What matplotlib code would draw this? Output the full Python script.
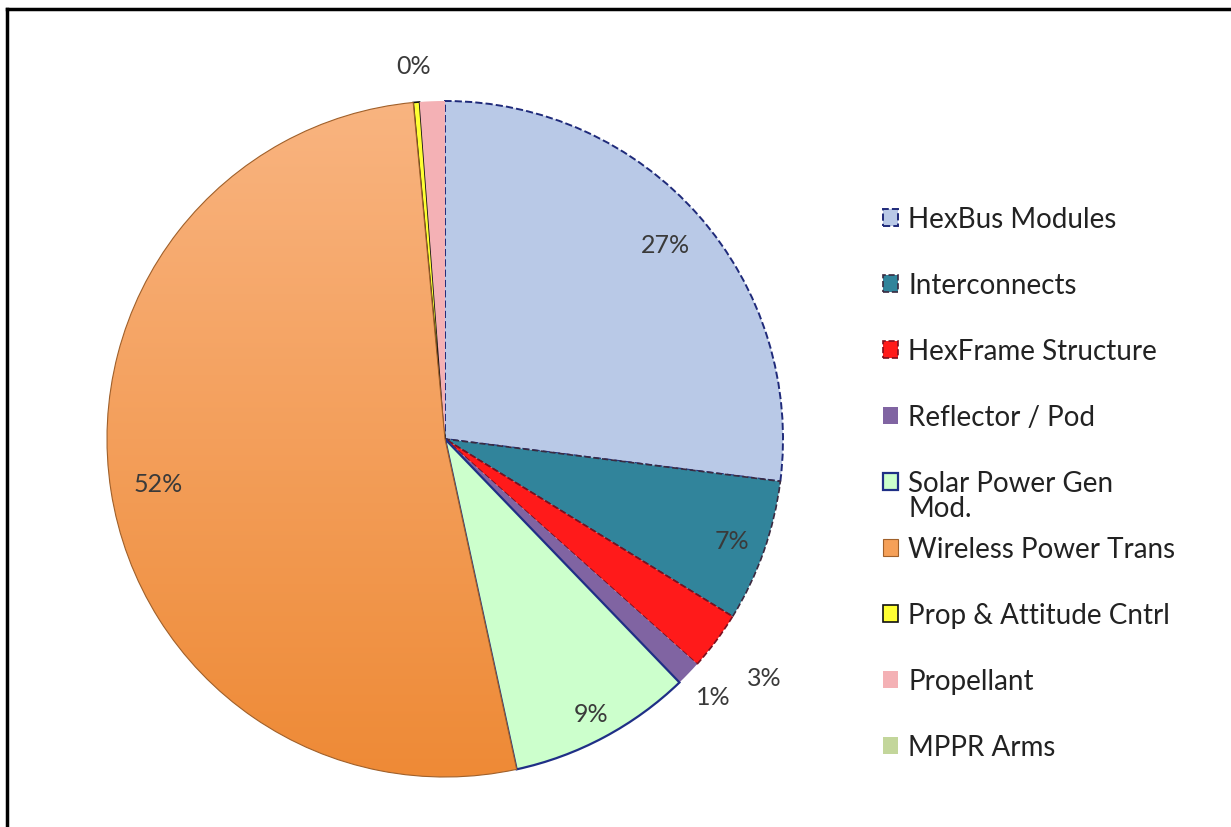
import matplotlib.pyplot as plt
from matplotlib.lines import Line2D
import numpy as np

plt.rcParams['font.family'] = ['Lato', 'DejaVu Sans']

categories = ["HexBus Modules", "Interconnects", "HexFrame Structure", "Reflector / Pod",
              "Solar Power Gen", "Wireless Power Trans", "Prop & Attitude Cntrl",
              "Propellant", "MPPR Arms"]
shares = [27.0, 6.8, 2.8, 1.2, 8.8, 51.9, 0.3, 1.2, 0.0]
pct_labels = ["27%", "7%", "3%", "1%", "9%", "52%", "0%", "", ""]

colors = ["#b9c9e7", "#31849b", "#ff1a1a", "#8064a2", "#ccffcc",
          "#f5a058", "#ffff33", "#f4b1b5", "#c3d69b"]
edges = ["#1f2a7a", "#3a2a40", "#7a1020", "none", "#1f2f86",
         "#a0602a", "#111111", "none", "none"]
styles = ["--", "--", "--", "-", "-", "-", "-", "-", "-"]
widths = [1.4, 1.2, 1.2, 0, 1.6, 0.8, 1.2, 0, 0]
label_dist = [0.87, 0.90, 1.18, 1.10, 0.92, 0.86, 1.11, 0, 0]

W, H = 1231, 828
fig = plt.figure(figsize=(W / 100, H / 100), dpi=100)
cx, cy, R = 445, 440, 338
ax = fig.add_axes([(cx - R) / W, (H - cy - R) / H, 2 * R / W, 2 * R / H])

wedges, _ = ax.pie(shares, colors=colors, startangle=90, counterclock=False,
                   radius=1.0)
for w, ec, ls, lw in zip(wedges, edges, styles, widths):
    w.set_edgecolor(ec)
    w.set_linestyle(ls)
    w.set_linewidth(lw)

# orange slice has a light-to-dark vertical gradient in the original
grad = np.linspace(0, 1, 256).reshape(-1, 1)
top = np.array([0xf9, 0xb4, 0x80]) / 255
bot = np.array([0xee, 0x8a, 0x36]) / 255
img = top + (bot - top) * grad[:, :, None]
im = ax.imshow(img, extent=(-1, 1, -1, 1), origin='upper', aspect='auto', zorder=wedges[5].get_zorder())
im.set_clip_path(wedges[5])
wedges[5].set_facecolor('none')
wedges[5].set_zorder(wedges[5].get_zorder() + 0.1)

for w, lab, d in zip(wedges, pct_labels, label_dist):
    if not lab:
        continue
    ang = np.deg2rad((w.theta1 + w.theta2) / 2)
    ax.text(d * np.cos(ang), d * np.sin(ang), lab, ha='center', va='center',
            fontsize=18, color='#3a3a3a', zorder=5)

ax.set_xlim(-1, 1)
ax.set_ylim(-1, 1)
ax.set_aspect('equal')
ax.axis('off')

handles = []
for i, w in enumerate(wedges):
    p = plt.Rectangle((0, 0), 1, 1, facecolor=colors[i],
                      edgecolor=w.get_edgecolor(), linestyle=w.get_linestyle(),
                      linewidth=max(w.get_linewidth(), 0))
    handles.append(p)
handles[5].set_edgecolor('#a0602a')

leg = fig.legend(handles, categories, loc='upper left',
                 bbox_to_anchor=(872 / W, (H - 196) / H), frameon=False,
                 fontsize=20, labelspacing=1.44, handlelength=0.55, handleheight=0.55,
                 handletextpad=0.35, labelcolor='#222222', borderaxespad=0)

# second line of the wrapped "Solar Power Gen Mod." entry
fig.canvas.draw()
bb = leg.get_texts()[4].get_window_extent()
fig.text(bb.x0 / W, (bb.y0 - 25) / H, "Mod.", fontsize=20, color='#222222',
         ha='left', va='bottom')

# partial frame round the slide
fig.add_artist(Line2D([7 / W, 1], [(H - 10) / H, (H - 10) / H], color='black', lw=2.5))
fig.add_artist(Line2D([7 / W, 7 / W], [0, (H - 10) / H], color='black', lw=2.5))

fig.savefig("out.png", dpi=100, facecolor='white')
